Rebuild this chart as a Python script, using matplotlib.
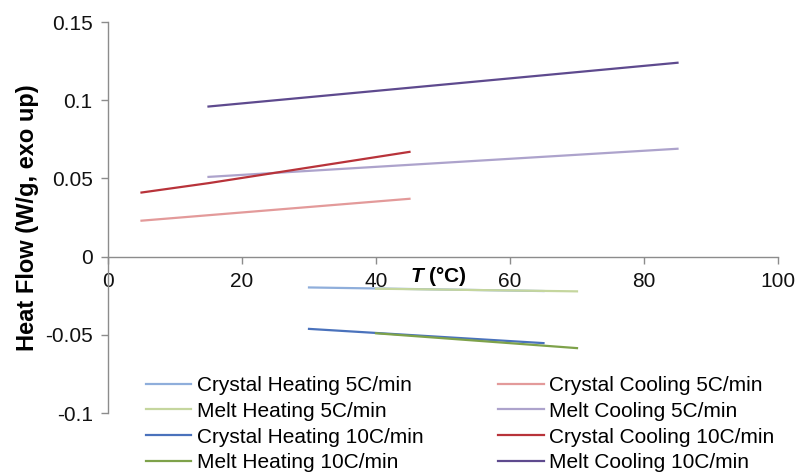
import matplotlib.pyplot as plt

plt.rcParams['font.family'] = ['Liberation Sans', 'DejaVu Sans']
plt.rcParams['mathtext.fontset'] = 'custom'
plt.rcParams['mathtext.it'] = 'Liberation Sans:italic:bold'

# DSC baselines, heat flow (W/g, exo up) against temperature
cryst_heat_5_T = [30, 65]
cryst_heat_5_Q = [-0.0197, -0.0220]
cryst_cool_5_T = [5, 45]
cryst_cool_5_Q = [0.023, 0.037]
melt_heat_5_T = [40, 70]
melt_heat_5_Q = [-0.0205, -0.0222]
melt_cool_5_T = [15, 85]
melt_cool_5_Q = [0.051, 0.069]
cryst_heat_10_T = [30, 65]
cryst_heat_10_Q = [-0.0462, -0.0553]
cryst_cool_10_T = [5, 15, 30, 45]
cryst_cool_10_Q = [0.041, 0.047, 0.057, 0.067]
melt_heat_10_T = [40, 70]
melt_heat_10_Q = [-0.049, -0.0585]
melt_cool_10_T = [15, 85]
melt_cool_10_Q = [0.096, 0.124]

fig = plt.figure(figsize=(8, 4.75), dpi=100)
ax = fig.add_axes([0.135, 0.1305, 0.8375, 0.823])

lw = 1.6
l1, = ax.plot(cryst_heat_5_T, cryst_heat_5_Q, color='#8FAEDB', lw=lw, label='Crystal Heating 5C/min')
l2, = ax.plot(cryst_cool_5_T, cryst_cool_5_Q, color='#E39A9A', lw=lw, label='Crystal Cooling 5C/min')
l3, = ax.plot(melt_heat_5_T, melt_heat_5_Q, color='#C5D69E', lw=lw, label='Melt Heating 5C/min')
l4, = ax.plot(melt_cool_5_T, melt_cool_5_Q, color='#ADA3CC', lw=lw, label='Melt Cooling 5C/min')
l5, = ax.plot(cryst_heat_10_T, cryst_heat_10_Q, color='#4A72BC', lw=lw, label='Crystal Heating 10C/min')
l6, = ax.plot(cryst_cool_10_T, cryst_cool_10_Q, color='#B8333A', lw=lw, label='Crystal Cooling 10C/min')
l7, = ax.plot(melt_heat_10_T, melt_heat_10_Q, color='#7EA24A', lw=lw, label='Melt Heating 10C/min')
l8, = ax.plot(melt_cool_10_T, melt_cool_10_Q, color='#5E4A8E', lw=lw, label='Melt Cooling 10C/min')

ax.set_xlim(0, 100)
ax.set_ylim(-0.1, 0.15)
ax.set_xticks([0, 20, 40, 60, 80, 100])
ax.set_yticks([-0.1, -0.05, 0, 0.05, 0.1, 0.15])
ax.set_yticklabels(['-0.1', '-0.05', '0', '0.05', '0.1', '0.15'])

# axis crosses at zero like the spreadsheet default
ax.spines['top'].set_visible(False)
ax.spines['right'].set_visible(False)
ax.spines['bottom'].set_position(('data', 0))
for s in ('left', 'bottom'):
    ax.spines[s].set_color('#8C8C8C')
    ax.spines[s].set_linewidth(1.0)
ax.tick_params(direction='out', length=5, width=1.0, color='#8C8C8C',
               labelsize=15, labelcolor='#111111', pad=6)

ax.set_xlabel('$T$ (°C)', fontsize=15, fontweight='bold')
ax.xaxis.set_label_coords(0.493, 0.35)
ax.xaxis.label.set_va('center')
ax.set_ylabel('Heat Flow (W/g, exo up)', fontsize=17, fontweight='bold', labelpad=4)

# row-wise order: heating on the left, cooling on the right
handles = [l1, l3, l5, l7, l2, l4, l6, l8]
ax.legend(handles=handles, loc='lower left', bbox_to_anchor=(0.028, -0.2), ncol=2,
          frameon=False, fontsize=15, handlelength=2.2, handletextpad=0.25,
          columnspacing=3.6, labelspacing=0.33)

fig.savefig('out.png', dpi=100)
